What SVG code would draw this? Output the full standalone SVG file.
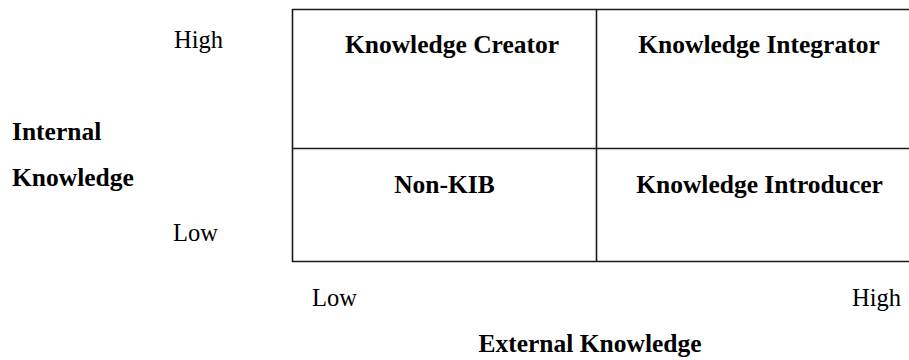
<svg xmlns="http://www.w3.org/2000/svg" width="909" height="360" viewBox="0 0 909 360">
<style>
.b{font-family:"Liberation Serif","Times New Roman",serif;font-weight:bold;font-size:25.5px;fill:#000}
.r{font-family:"Liberation Serif","Times New Roman",serif;font-size:24.5px;fill:#000}
.g{stroke:#1a1a1a;stroke-width:1.6;fill:none}
</style>
<rect width="909" height="360" fill="#fff"/>
<g id="grid">
<path class="g" d="M292 9.5H912M292 148.5H912M292 261.5H912M292.5 9V262M596.5 9V262"/>
</g>
<g id="knowledge-creator"><text class="b" x="452" y="53" text-anchor="middle">Knowledge Creator</text></g>
<g id="knowledge-integrator"><text class="b" x="759" y="53" text-anchor="middle">Knowledge Integrator</text></g>
<g id="non-kib"><text class="b" x="444.5" y="193" text-anchor="middle">Non-KIB</text></g>
<g id="knowledge-introducer"><text class="b" x="759.5" y="193" text-anchor="middle">Knowledge Introducer</text></g>
<g id="axis-internal">
<text class="b" x="12" y="140">Internal</text>
<text class="b" x="12" y="186">Knowledge</text>
<text class="r" x="174" y="48">High</text>
<text class="r" x="173" y="241">Low</text>
</g>
<g id="axis-external">
<text class="r" x="312" y="306">Low</text>
<text class="r" x="852" y="306">High</text>
<text class="b" x="590" y="352" text-anchor="middle">External Knowledge</text>
</g>
</svg>
